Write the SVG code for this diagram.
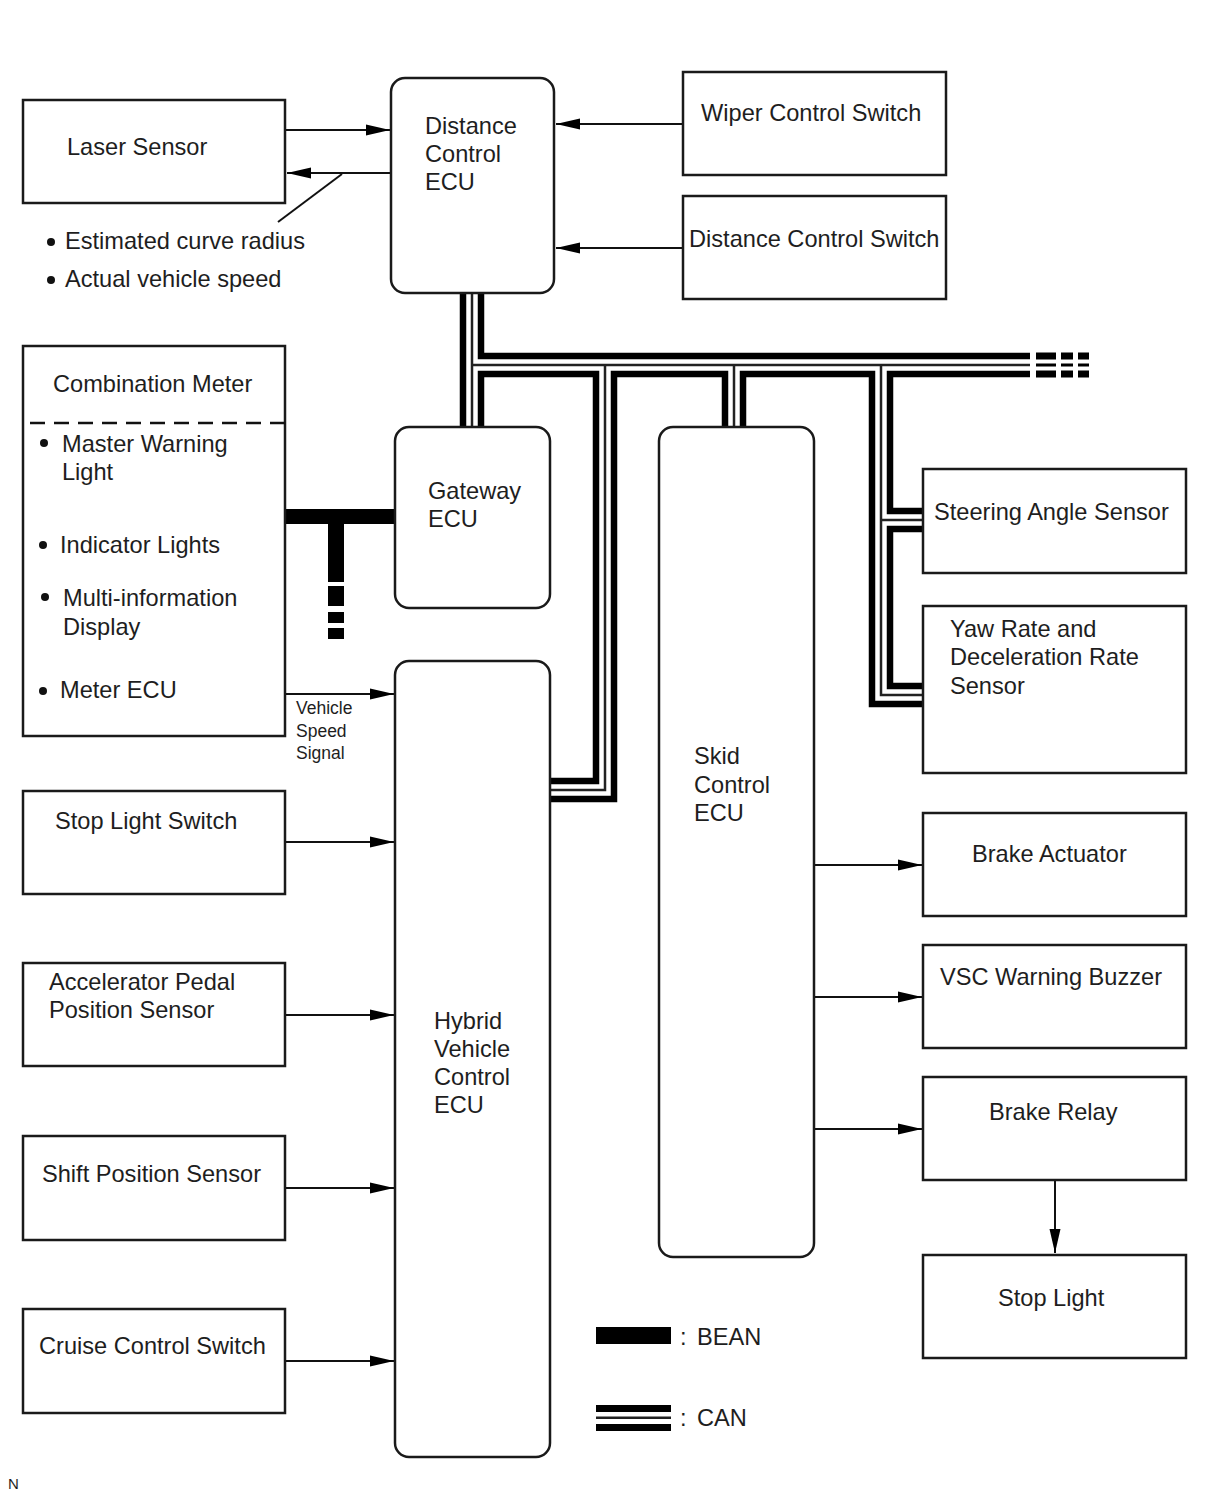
<svg xmlns="http://www.w3.org/2000/svg" width="1210" height="1498" viewBox="0 0 1210 1498">
<style>
  text { font-family: "Liberation Sans", Arial, sans-serif; font-size: 23.6px; fill: #1e1e1e; }
  .small { font-size: 17.5px; }
  .box { fill: #fff; stroke: #1a1a1a; stroke-width: 2.5; }
  .arr { fill: none; stroke: #111; stroke-width: 2; marker-end: url(#ah); }
  .ln { fill: none; stroke: #111; stroke-width: 2; }
  .thick { fill: none; stroke: #000; stroke-width: 6.5; stroke-linejoin: miter; }
  .thin { fill: none; stroke: #222; stroke-width: 2.5; stroke-linejoin: miter; }
  .bean { fill: #000; }
</style>
<defs>
  <marker id="ah" markerUnits="userSpaceOnUse" markerWidth="26" markerHeight="14" refX="24" refY="6" orient="auto">
    <path d="M0,0.5 L24,6 L0,11.5 Z" fill="#000"/>
  </marker>
</defs>
<rect width="1210" height="1498" fill="#fff"/>

<g id="connectors">
  <!-- CAN bus -->
  <path class="thick" d="M481,293 V356 H1030"/>
  <path class="thick" d="M463,293 V427"/>
  <path class="thin" d="M472,293 V427"/>
  <path class="thin" d="M472,365 H1030"/>
  <path class="thick" d="M481,427 V374 H596 V781 H550"/>
  <path class="thin" d="M605,365 V790 H550"/>
  <path class="thick" d="M550,799 H614 V374 H725 V427"/>
  <path class="thin" d="M734,365 V427"/>
  <path class="thick" d="M743,427 V374 H872 V704 H923"/>
  <path class="thin" d="M881,365 V695 H923"/>
  <path class="thin" d="M881,520 H923"/>
  <path class="thick" d="M1030,374 H890 V511 H923"/>
  <path class="thick" d="M923,529 H890 V686 H923"/>
  <!-- bus end dashes -->
  <g fill="#000">
    <rect x="1036" y="352.5" width="20" height="7"/>
    <rect x="1061" y="352.5" width="12" height="7"/>
    <rect x="1078" y="352.5" width="11" height="7"/>
    <rect x="1036" y="363.5" width="20" height="3"/>
    <rect x="1061" y="363.5" width="12" height="3"/>
    <rect x="1078" y="363.5" width="11" height="3"/>
    <rect x="1036" y="370.5" width="20" height="7"/>
    <rect x="1061" y="370.5" width="12" height="7"/>
    <rect x="1078" y="370.5" width="11" height="7"/>
  </g>
  <!-- BEAN -->
  <rect class="bean" x="285" y="509" width="110" height="15"/>
  <rect class="bean" x="328" y="509" width="16" height="73"/>
  <rect class="bean" x="328" y="586" width="16" height="20"/>
  <rect class="bean" x="328" y="612" width="16" height="11"/>
  <rect class="bean" x="328" y="628" width="16" height="11"/>
  <!-- signal arrows -->
  <line class="arr" x1="286" y1="130" x2="390" y2="130"/>
  <line class="arr" x1="391" y1="173" x2="287" y2="173"/>
  <line class="ln" x1="278" y1="222" x2="342" y2="174"/>
  <line class="arr" x1="683" y1="124" x2="556" y2="124"/>
  <line class="arr" x1="683" y1="248" x2="556" y2="248"/>
  <line class="arr" x1="286" y1="694" x2="394" y2="694"/>
  <line class="arr" x1="286" y1="842" x2="394" y2="842"/>
  <line class="arr" x1="286" y1="1015" x2="394" y2="1015"/>
  <line class="arr" x1="286" y1="1188" x2="394" y2="1188"/>
  <line class="arr" x1="286" y1="1361" x2="394" y2="1361"/>
  <line class="arr" x1="815" y1="865" x2="922" y2="865"/>
  <line class="arr" x1="815" y1="997" x2="922" y2="997"/>
  <line class="arr" x1="815" y1="1129" x2="922" y2="1129"/>
  <line class="arr" x1="1055" y1="1181" x2="1055" y2="1253"/>
  <text class="small" x="296" y="714">Vehicle</text>
  <text class="small" x="296" y="737">Speed</text>
  <text class="small" x="296" y="759">Signal</text>
</g>

<g id="laser-sensor">
  <rect class="box" x="23" y="100" width="262" height="103"/>
  <text x="67" y="155">Laser Sensor</text>
</g>
<g id="laser-notes">
  <circle cx="51" cy="242" r="4" fill="#111"/>
  <text x="65" y="249">Estimated curve radius</text>
  <circle cx="51" cy="280" r="4" fill="#111"/>
  <text x="65" y="287">Actual vehicle speed</text>
</g>
<g id="distance-control-ecu">
  <rect class="box" x="391" y="78" width="163" height="215" rx="14"/>
  <text x="425" y="134">Distance</text>
  <text x="425" y="162">Control</text>
  <text x="425" y="190">ECU</text>
</g>
<g id="wiper-control-switch">
  <rect class="box" x="683" y="72" width="263" height="103"/>
  <text x="701" y="121">Wiper Control Switch</text>
</g>
<g id="distance-control-switch">
  <rect class="box" x="683" y="196" width="263" height="103"/>
  <text x="689" y="247">Distance Control Switch</text>
</g>
<g id="combination-meter">
  <rect class="box" x="23" y="346" width="262" height="390"/>
  <text x="53" y="392">Combination Meter</text>
  <line x1="30" y1="423" x2="285" y2="423" stroke="#111" stroke-width="2.5" stroke-dasharray="15 9"/>
  <circle cx="44" cy="443" r="4" fill="#111"/>
  <text x="62" y="452">Master Warning</text>
  <text x="62" y="480">Light</text>
  <circle cx="43" cy="545" r="4" fill="#111"/>
  <text x="60" y="553">Indicator Lights</text>
  <circle cx="45" cy="597" r="4" fill="#111"/>
  <text x="63" y="606">Multi-information</text>
  <text x="63" y="635">Display</text>
  <circle cx="43" cy="691" r="4" fill="#111"/>
  <text x="60" y="698">Meter ECU</text>
</g>
<g id="gateway-ecu">
  <rect class="box" x="395" y="427" width="155" height="181" rx="14"/>
  <text x="428" y="499">Gateway</text>
  <text x="428" y="527">ECU</text>
</g>
<g id="hybrid-vehicle-control-ecu">
  <rect class="box" x="395" y="661" width="155" height="796" rx="14"/>
  <text x="434" y="1029">Hybrid</text>
  <text x="434" y="1057">Vehicle</text>
  <text x="434" y="1085">Control</text>
  <text x="434" y="1113">ECU</text>
</g>
<g id="stop-light-switch">
  <rect class="box" x="23" y="791" width="262" height="103"/>
  <text x="55" y="829">Stop Light Switch</text>
</g>
<g id="accelerator-pedal-position-sensor">
  <rect class="box" x="23" y="963" width="262" height="103"/>
  <text x="49" y="990">Accelerator Pedal</text>
  <text x="49" y="1018">Position Sensor</text>
</g>
<g id="shift-position-sensor">
  <rect class="box" x="23" y="1136" width="262" height="104"/>
  <text x="42" y="1182">Shift Position Sensor</text>
</g>
<g id="cruise-control-switch">
  <rect class="box" x="23" y="1309" width="262" height="104"/>
  <text x="39" y="1354">Cruise Control Switch</text>
</g>
<g id="skid-control-ecu">
  <rect class="box" x="659" y="427" width="155" height="830" rx="14"/>
  <text x="694" y="764">Skid</text>
  <text x="694" y="793">Control</text>
  <text x="694" y="821">ECU</text>
</g>
<g id="steering-angle-sensor">
  <rect class="box" x="923" y="469" width="263" height="104"/>
  <text x="934" y="520">Steering Angle Sensor</text>
</g>
<g id="yaw-rate-sensor">
  <rect class="box" x="923" y="606" width="263" height="167"/>
  <text x="950" y="637">Yaw Rate and</text>
  <text x="950" y="665">Deceleration Rate</text>
  <text x="950" y="694">Sensor</text>
</g>
<g id="brake-actuator">
  <rect class="box" x="923" y="813" width="263" height="103"/>
  <text x="972" y="862">Brake Actuator</text>
</g>
<g id="vsc-warning-buzzer">
  <rect class="box" x="923" y="945" width="263" height="103"/>
  <text x="940" y="985">VSC Warning Buzzer</text>
</g>
<g id="brake-relay">
  <rect class="box" x="923" y="1077" width="263" height="103"/>
  <text x="989" y="1120">Brake Relay</text>
</g>
<g id="stop-light">
  <rect class="box" x="923" y="1255" width="263" height="103"/>
  <text x="998" y="1306">Stop Light</text>
</g>

<g id="legend">
  <rect x="596" y="1327" width="75" height="17" fill="#000"/>
  <text x="680" y="1345">:<tspan x="697">BEAN</tspan></text>
  <rect x="596" y="1405" width="75" height="7" fill="#000"/>
  <rect x="596" y="1416.5" width="75" height="2.5" fill="#222"/>
  <rect x="596" y="1424" width="75" height="7" fill="#000"/>
  <text x="680" y="1426">:<tspan x="697">CAN</tspan></text>
</g>
<text x="8" y="1489" style="font-size:15px">N</text>
</svg>
